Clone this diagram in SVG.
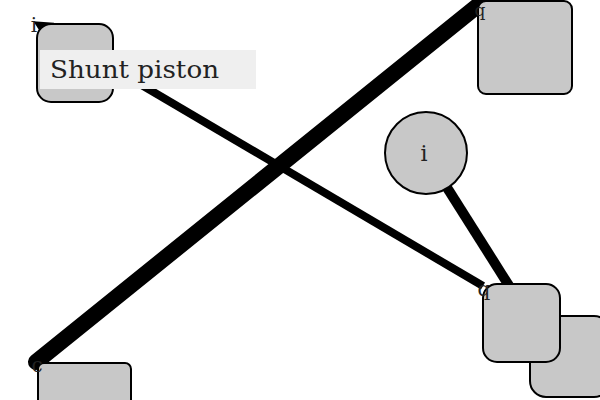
<svg xmlns="http://www.w3.org/2000/svg" width="600" height="400" viewBox="0 0 600 400">
<defs>
<style>
.node{fill:#c8c8c8;stroke:#000;stroke-width:2}
.edge{stroke:#000;fill:none}
.lbl{font-family:"DejaVu Serif","Liberation Serif",serif;fill:#222}
</style>
<marker id="ah" markerWidth="2.4" markerHeight="2.4" refX="1" refY="1.2" orient="auto" markerUnits="strokeWidth">
<path d="M0,0 L2.4,1.2 L0,2.4 z" fill="#000"/>
</marker>
</defs>
<rect width="600" height="400" fill="#fff"/>
<g id="connectors">
<line class="edge" x1="483" y1="286" x2="43" y2="27" stroke-width="8" marker-end="url(#ah)"/>
<line class="edge" x1="446" y1="186" x2="513" y2="292" stroke-width="10"/>
<line class="edge" x1="36" y1="362" x2="481" y2="3" stroke-width="16" stroke-linecap="round"/>
</g>
<g id="node-a">
<rect class="node" x="37" y="24" width="76" height="78" rx="14"/>
</g>
<g id="node-b">
<rect class="node" x="478" y="1" width="94" height="93" rx="8"/>
</g>
<g id="node-circle">
<circle class="node" cx="426" cy="153" r="41"/>
<text class="lbl" x="424" y="161" font-size="22" text-anchor="middle">i</text>
</g>
<g id="node-e">
<rect class="node" x="530" y="316" width="80" height="81" rx="16"/>
</g>
<g id="node-d">
<rect class="node" x="483" y="284" width="77" height="78" rx="14"/>
</g>
<g id="node-f">
<rect class="node" x="38" y="363" width="93" height="50" rx="6"/>
</g>
<g id="label-shunt">
<rect x="40" y="50" width="216" height="39" fill="#efefef"/>
<text class="lbl" x="50" y="78" font-size="25" textLength="169" lengthAdjust="spacingAndGlyphs">Shunt piston</text>
</g>
<g id="end-labels">
<text class="lbl" x="34" y="32" font-size="20" text-anchor="middle">i</text>
<text class="lbl" x="480" y="16" font-size="17" text-anchor="middle">q</text>
<text class="lbl" x="484" y="296" font-size="20" text-anchor="middle">q</text>
<text class="lbl" x="37" y="372" font-size="20" text-anchor="middle">c</text>
</g>
</svg>
